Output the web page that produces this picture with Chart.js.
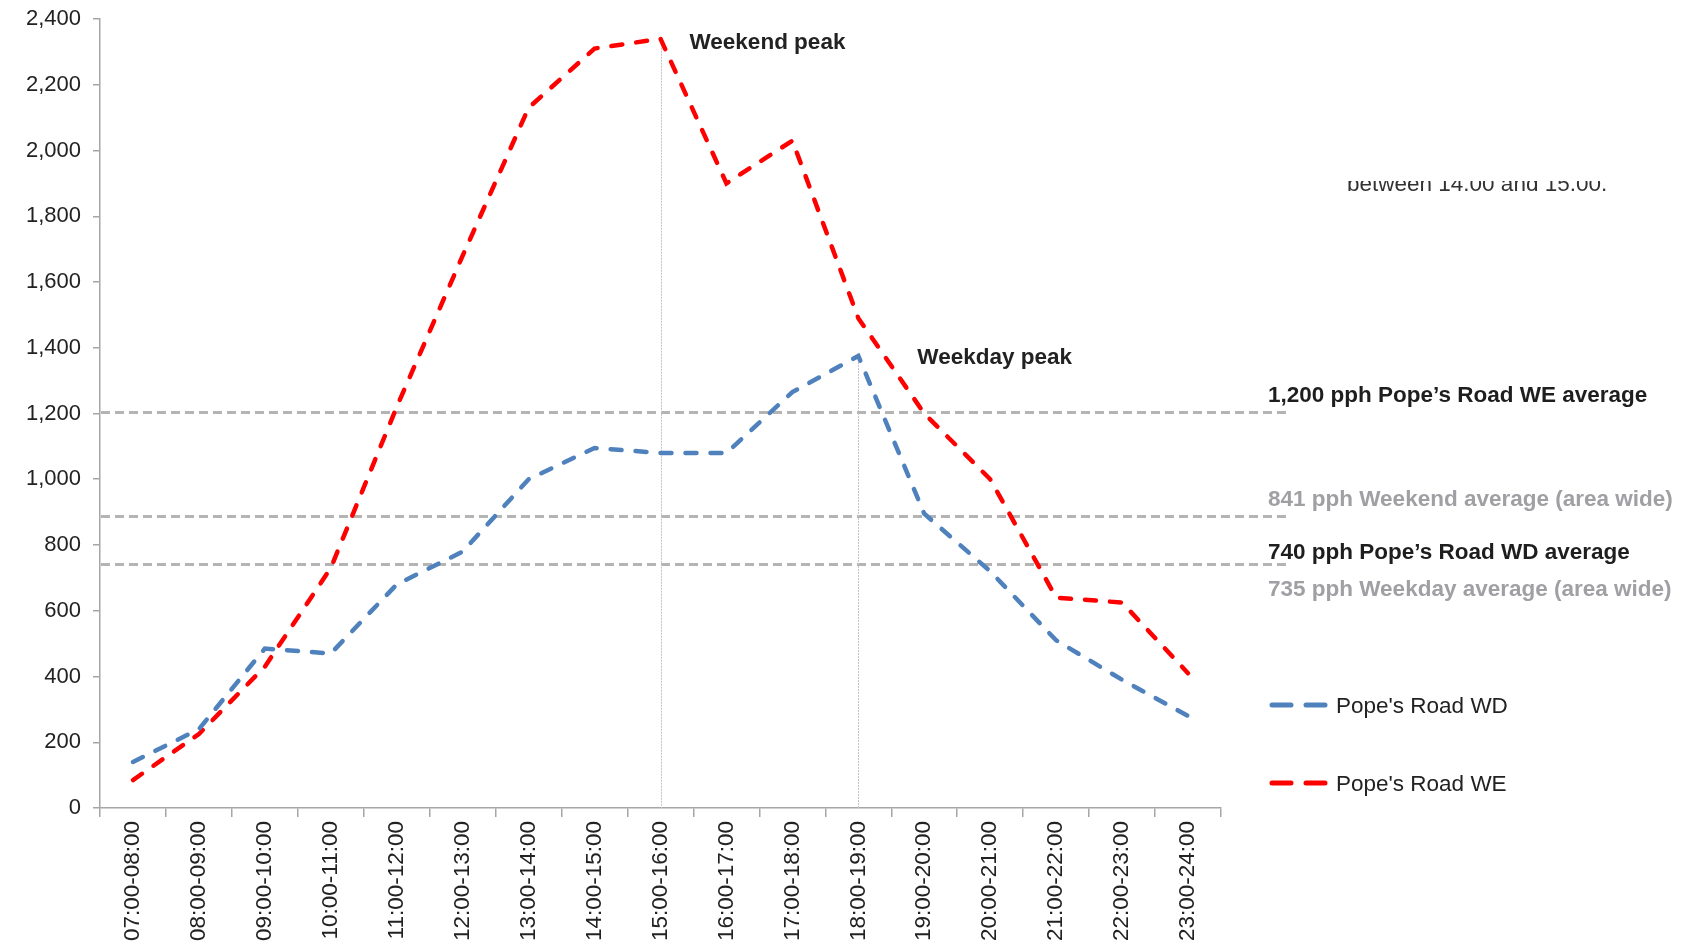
<!DOCTYPE html>
<html>
<head>
<meta charset="utf-8">
<script src="https://cdn.jsdelivr.net/npm/chart.js@4.4.1/dist/chart.umd.min.js"></script>
<style>
  body { margin: 0; background: #fff; }
  #chart { display: block; }
</style>
</head>
<body>
<canvas id="chart" width="1681" height="949"></canvas>
<script>
// hourly pedestrians, Pope's Road
const hours = ["07:00-08:00", "08:00-09:00", "09:00-10:00", "10:00-11:00", "11:00-12:00",
  "12:00-13:00", "13:00-14:00", "14:00-15:00", "15:00-16:00", "16:00-17:00", "17:00-18:00",
  "18:00-19:00", "19:00-20:00", "20:00-21:00", "21:00-22:00", "22:00-23:00", "23:00-24:00"];
const weekday = [140, 240, 485, 470, 680, 780, 1000, 1095, 1080, 1080, 1265, 1375, 895, 720, 510, 390, 280];
const weekend = [85, 225, 430, 730, 1220, 1680, 2130, 2310, 2340, 1900, 2030, 1490, 1200, 1000, 640, 625, 410];
const seriesNames = ["Pope's Road WD", "Pope's Road WE"];

// average reference lines (as drawn) and their captions
const avgLines = [1205, 888, 742];
const avgCaptions = ["1,200 pph Pope\u2019s Road WE average", "841 pph Weekend average (area wide)",
  "740 pph Pope\u2019s Road WD average", "735 pph Weekday average (area wide)"];
const peakCaptions = ["Weekend peak", "Weekday peak"];

const BLUE = "#4f81bd";
const RED = "#ff0000";
const FONT = "'Liberation Sans', Arial, sans-serif";

const decor = {
  id: "decor",
  beforeDatasetsDraw(chart) {
    const { ctx, chartArea, scales } = chart;
    const y = scales.y, x = scales.x;
    ctx.save();
    // horizontal averages, running past the plot into the caption column
    ctx.strokeStyle = "#b4b4b4";
    ctx.lineWidth = 3;
    ctx.setLineDash([9, 5]);
    avgLines.forEach(v => {
      const py = Math.round(y.getPixelForValue(v)) + 0.5;
      ctx.beginPath();
      ctx.moveTo(chartArea.left + 1, py);
      ctx.lineTo(1286, py);
      ctx.stroke();
    });
    // peak drop lines
    ctx.strokeStyle = "#c4c4c4";
    ctx.lineWidth = 1;
    ctx.setLineDash([2, 1]);
    [weekend, weekday].forEach(arr => {
      const i = arr.indexOf(Math.max(...arr));
      const px = Math.round(x.getPixelForValue(i)) + 0.5;
      ctx.beginPath();
      ctx.moveTo(px, y.getPixelForValue(arr[i]));
      ctx.lineTo(px, chartArea.bottom);
      ctx.stroke();
    });
    ctx.restore();
  },
  afterDraw(chart) {
    const { ctx, scales } = chart;
    const y = scales.y, x = scales.x;
    ctx.save();
    ctx.textBaseline = "alphabetic";
    ctx.textAlign = "left";

    // peak captions
    ctx.font = "bold 22.5px " + FONT;
    ctx.fillStyle = "#222";
    const iWe = weekend.indexOf(Math.max(...weekend));
    const iWd = weekday.indexOf(Math.max(...weekday));
    ctx.fillText(peakCaptions[0], x.getPixelForValue(iWe) + 29, y.getPixelForValue(weekend[iWe]) + 10);
    ctx.fillText(peakCaptions[1], x.getPixelForValue(iWd) + 59, y.getPixelForValue(weekday[iWd]) + 8);

    // average captions
    const cx = 1268;
    ctx.fillStyle = "#1e1e1e";
    ctx.fillText(avgCaptions[0], cx, y.getPixelForValue(avgLines[0]) - 10);
    ctx.fillStyle = "#a0a0a4";
    ctx.fillText(avgCaptions[1], cx, y.getPixelForValue(avgLines[1]) - 10);
    ctx.fillStyle = "#1e1e1e";
    ctx.fillText(avgCaptions[2], cx, y.getPixelForValue(avgLines[2]) - 5);
    ctx.fillStyle = "#a0a0a4";
    ctx.fillText(avgCaptions[3], cx, y.getPixelForValue(avgLines[2]) + 32);

    // cut-off note from the source slide
    ctx.save();
    ctx.beginPath();
    ctx.rect(1300, 181, 380, 30);
    ctx.clip();
    ctx.font = "22.5px " + FONT;
    ctx.fillStyle = "#333";
    ctx.fillText("between 14.00 and 15.00.", 1347, 191);
    ctx.restore();

    // legend
    ctx.font = "22.5px " + FONT;
    ctx.lineWidth = 5;
    ctx.lineCap = "round";
    ctx.setLineDash([19, 15]);
    [[BLUE, 705], [RED, 783]].forEach(([col, ly], k) => {
      ctx.strokeStyle = col;
      ctx.beginPath();
      ctx.moveTo(1272, ly);
      ctx.lineTo(1325, ly);
      ctx.stroke();
      ctx.fillStyle = "#222";
      ctx.fillText(seriesNames[k], 1336, ly + 8);
    });
    ctx.restore();
  }
};

const lineStyle = {
  borderWidth: 4.5,
  borderDash: [11, 14],
  borderCapStyle: "round",
  pointRadius: 0,
  tension: 0,
  fill: false
};

new Chart(document.getElementById("chart"), {
  type: "line",
  data: {
    labels: hours,
    datasets: [
      { label: seriesNames[0], data: weekday, borderColor: BLUE, backgroundColor: BLUE, ...lineStyle },
      { label: seriesNames[1], data: weekend, borderColor: RED, backgroundColor: RED, ...lineStyle }
    ]
  },
  options: {
    responsive: false,
    devicePixelRatio: 1,
    animation: false,
    layout: { padding: { top: 19, right: 460, left: 0, bottom: 0 } },
    plugins: {
      legend: { display: false },
      tooltip: { enabled: false }
    },
    scales: {
      x: {
        offset: true,
        grid: { offset: true, drawOnChartArea: false, color: "#a6a6a6", tickLength: 9, lineWidth: 1.5 },
        border: { color: "#a6a6a6", width: 1.5 },
        ticks: {
          autoSkip: false, minRotation: 90, maxRotation: 90,
          color: "#222", font: { family: FONT, size: 22.5 }, padding: 4
        },
        afterFit(scale) {
          scale.height = 141;
          scale.paddingLeft = 0;
          scale.paddingRight = 0;
        }
      },
      y: {
        min: 0,
        max: 2400,
        grid: { drawOnChartArea: false, color: "#a6a6a6", tickLength: 7, lineWidth: 1.5 },
        border: { color: "#a6a6a6", width: 1.5 },
        ticks: {
          stepSize: 200,
          color: "#222",
          font: { family: FONT, size: 22 },
          padding: 12,
          callback: v => v.toLocaleString("en-US")
        },
        afterFit(scale) {
          scale.width = 100;
          scale.paddingTop = 0;
          scale.paddingBottom = 0;
        }
      }
    }
  },
  plugins: [decor]
});
</script>
</body>
</html>
